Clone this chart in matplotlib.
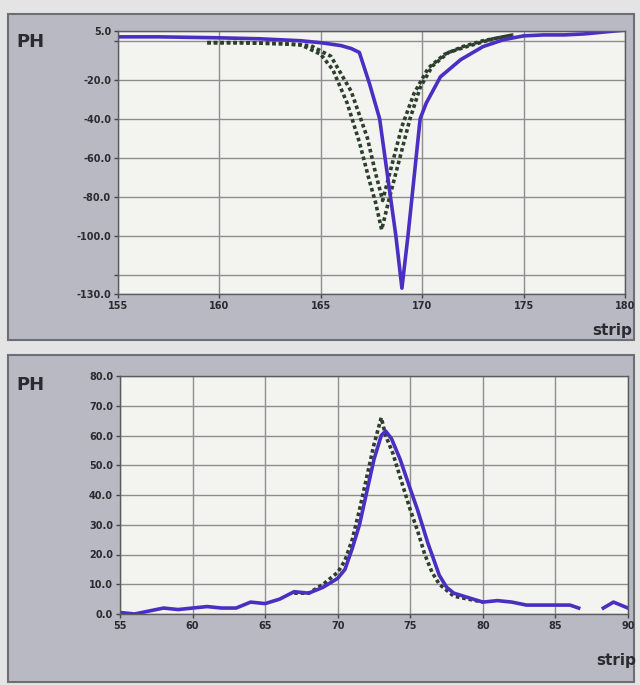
import numpy as np
import matplotlib
matplotlib.use("Agg")
import matplotlib.pyplot as plt
from matplotlib.patches import Rectangle

# ---- top panel data (strip vs PH) ----
top_blue_x = [155, 157, 160, 162, 164, 165, 166, 166.5, 166.9, 167.4, 167.9,
              168.3, 168.7, 169.0, 169.3, 169.6, 169.9, 170.2, 170.9, 171.9,
              173.0, 174.0, 175.0, 176.0, 177.0, 178.0, 179.0, 180.0]
top_blue_y = [2.0, 2.0, 1.5, 1.0, 0.0, -1.0, -2.5, -4.0, -6.0, -22.0, -40.0,
              -70.0, -100.0, -127.0, -100.0, -70.0, -40.0, -32.0, -18.5, -9.7,
              -3.0, 0.5, 2.5, 3.0, 3.0, 3.5, 4.5, 5.5]

top_green1_x = [159.4, 161, 163, 164, 165, 165.6, 166.3, 166.9, 167.4, 167.7,
                168.0, 168.4, 168.9, 169.4, 169.9, 170.5, 171.3, 172.2, 173.5, 174.5]
top_green1_y = [-1.0, -1.0, -1.5, -2.0, -7.0, -15.0, -32.0, -52.0, -72.0, -83.0,
                -97.0, -80.0, -60.0, -40.0, -24.0, -13.0, -6.0, -3.0, 1.0, 3.0]

top_green2_x = [159.4, 161, 163, 164.5, 165.5, 166.5, 167.3, 167.7, 168.05,
                168.5, 169.0, 169.6, 170.3, 171.1, 172.0, 173.0, 174.5]
top_green2_y = [-1.0, -1.0, -1.5, -2.5, -8.0, -26.0, -50.0, -68.0, -82.0,
                -64.0, -44.0, -27.0, -14.0, -7.0, -3.0, 0.0, 3.0]

top_yticks = [5, -20, -40, -60, -80, -100, -130]
top_ygrid = [0, -120]
top_xticks = [155, 160, 165, 170, 175, 180]

# ---- bottom panel data ----
bot_blue_x = [55, 56, 57, 58, 59, 60, 61, 62, 63, 64, 65, 66, 67, 68, 69, 70,
              70.5, 71, 71.5, 72, 72.5, 73, 73.3, 73.7, 74.3, 75, 75.5, 76.2,
              77, 77.5, 78, 79, 80, 81, 82, 83, 84, 85, 86, 86.6, 87.5, 88.3,
              89, 89.5, 90]
bot_blue_y = [0.5, 0.0, 1.0, 2.0, 1.5, 2.0, 2.5, 2.0, 2.0, 4.0, 3.5, 5.0, 7.5,
              7.0, 9.0, 12.0, 15.0, 22.0, 30.0, 41.0, 52.0, 60.0, 61.5, 59.0,
              52.0, 42.0, 35.0, 24.0, 13.0, 9.0, 7.0, 5.5, 4.0, 4.5, 4.0, 3.0,
              3.0, 3.0, 3.0, 2.0, np.nan, 2.0, 4.0, 3.0, 2.0]

bot_green_x = [67, 68, 69, 70, 70.5, 71, 71.5, 72, 72.5, 73, 73.3, 73.8, 74.3,
               75, 75.5, 76, 76.5, 77, 78, 79, 80]
bot_green_y = [7.0, 7.0, 10.0, 14.0, 18.0, 25.0, 35.0, 46.0, 57.0, 66.0, 60.0,
               54.0, 46.0, 35.0, 28.0, 20.0, 14.0, 10.0, 6.0, 5.0, 4.0]

bot_yticks = [0, 10, 20, 30, 40, 50, 60, 70, 80]
bot_xticks = [55, 60, 65, 70, 75, 80, 85, 90]

# ---- style ----
BLUE = "#4b2fc2"
GREEN = "#2c3f2c"
PANEL = "#b9b9c3"
PLOTBG = "#f3f3ef"
GRID = "#8e8e8e"
TXT = "#2a2a30"

fig = plt.figure(figsize=(6.4, 6.85), dpi=100)
fig.patch.set_facecolor("#e4e4e4")

W, H = 640.0, 685.0


def px_rect(x0, y0, x1, y1, **kw):
    # rectangle given in pixel coords (y from top)
    return Rectangle((x0 / W, 1 - y1 / H), (x1 - x0) / W, (y1 - y0) / H,
                     transform=fig.transFigure, zorder=-5, **kw)


fig.patches.append(px_rect(8, 14, 634, 340, facecolor=PANEL, edgecolor="#6e6e76", lw=1.5))
fig.patches.append(px_rect(8, 355, 634, 682, facecolor=PANEL, edgecolor="#6e6e76", lw=1.5))


def make_axes(x0, y0, x1, y1):
    ax = fig.add_axes([x0 / W, 1 - y1 / H, (x1 - x0) / W, (y1 - y0) / H])
    ax.set_facecolor(PLOTBG)
    for s in ax.spines.values():
        s.set_color("#5a5a60")
        s.set_linewidth(1.0)
    ax.tick_params(axis="both", which="both", direction="out", length=3,
                   width=1, color="#444", labelsize=7, labelcolor=TXT, pad=2)
    ax.grid(True, which="both", color=GRID, lw=1.0)
    ax.set_axisbelow(True)
    return ax


# top panel
ax1 = make_axes(118, 31, 625, 294)
ax1.plot(top_green1_x, top_green1_y, color=GREEN, lw=2.6, ls=(0, (1, 0.8)))
ax1.plot(top_green2_x, top_green2_y, color=GREEN, lw=2.6, ls=(0, (1, 0.8)))
ax1.plot(top_blue_x, top_blue_y, color=BLUE, lw=2.6)
ax1.set_xlim(155, 180)
ax1.set_ylim(-130, 5)
ax1.set_xticks(top_xticks)
ax1.set_xticklabels([str(v) for v in top_xticks], fontweight="bold")
ax1.set_yticks(top_yticks)
ax1.set_yticks(top_ygrid, minor=True)
ax1.set_yticklabels(["%.1f" % v for v in top_yticks], fontweight="bold")
ax1.tick_params(axis="y", which="minor", length=3)

# bottom panel
ax2 = make_axes(120, 376, 628, 614)
ax2.plot(bot_green_x, bot_green_y, color=GREEN, lw=2.6, ls=(0, (1, 0.8)))
ax2.plot(bot_blue_x, bot_blue_y, color=BLUE, lw=2.6)
ax2.set_xlim(55, 90)
ax2.set_ylim(0, 80)
ax2.set_xticks(bot_xticks)
ax2.set_xticklabels([str(v) for v in bot_xticks], fontweight="bold")
ax2.set_yticks(bot_yticks)
ax2.set_yticklabels(["%.1f" % v for v in bot_yticks], fontweight="bold")

# axis names
fig.text(16 / W, 1 - 42 / H, "PH", fontsize=13, fontweight="bold", color=TXT,
         va="center", ha="left")
fig.text(16 / W, 1 - 385 / H, "PH", fontsize=13, fontweight="bold", color=TXT,
         va="center", ha="left")
fig.text(632 / W, 1 - 330 / H, "strip", fontsize=11, fontweight="bold",
         color=TXT, va="center", ha="right")
fig.text(636 / W, 1 - 660 / H, "strip", fontsize=11, fontweight="bold",
         color=TXT, va="center", ha="right")

fig.savefig("out.png", dpi=100, facecolor=fig.get_facecolor())
